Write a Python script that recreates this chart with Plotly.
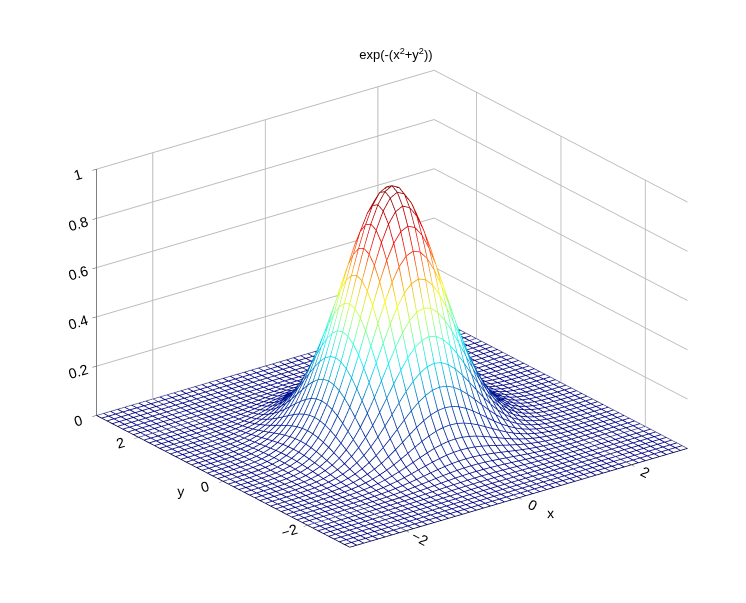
import numpy as np
import plotly.graph_objects as go

# grid of the plotted function exp(-(x^2+y^2)), as named in the chart title
xs = np.arange(-3, 3.0001, 0.125)
ys = np.arange(-3, 3.0001, 0.125)
X, Y = np.meshgrid(xs, ys)
Z = np.exp(-(X**2 + Y**2))

title_text = "exp(-(x<sup>2</sup>+y<sup>2</sup>))"
tick_xy = [-2, 0, 2]
tick_z = [0, 0.2, 0.4, 0.6, 0.8, 1]

# mesh lines: rows and columns joined with None breaks
lx, ly, lz = [], [], []
for i in range(len(ys)):
    lx += list(X[i]) + [None]; ly += list(Y[i]) + [None]; lz += list(Z[i]) + [None]
for j in range(len(xs)):
    lx += list(X[:, j]) + [None]; ly += list(Y[:, j]) + [None]; lz += list(Z[:, j]) + [None]
lc = [0 if v is None else v for v in lz]

fig = go.Figure()
# white faces hide the lines behind, like a matlab mesh
fig.add_trace(go.Surface(x=xs, y=ys, z=Z - 0.004, colorscale=[[0, "white"], [1, "white"]],
                         showscale=False, hoverinfo="skip",
                         lighting=dict(ambient=1, diffuse=0, specular=0, fresnel=0)))
fig.add_trace(go.Scatter3d(x=lx, y=ly, z=lz, mode="lines",
                           line=dict(color=lc, colorscale="Jet", cmin=0, cmax=1, width=1.6),
                           hoverinfo="skip", showlegend=False))

ax = dict(showbackground=False, gridcolor="#bbbbbb", showline=True, linecolor="black",
          zeroline=False, ticks="outside", tickfont=dict(family="Arial", size=13, color="black"))
fig.update_layout(
    width=746, height=603, paper_bgcolor="white", margin=dict(l=0, r=0, t=40, b=0),
    font=dict(family="Arial", color="black"),
    title=dict(text=title_text, x=0.52, y=0.93, font=dict(family="Arial", size=13, color="black")),
    scene=dict(
        xaxis=dict(ax, range=[-3, 3], tickvals=tick_xy, title=dict(text="x", font=dict(color="black"))),
        yaxis=dict(ax, range=[-3, 3], tickvals=tick_xy, title=dict(text="y", font=dict(color="black"))),
        zaxis=dict(ax, range=[0, 1], tickvals=tick_z, title=dict(text="")),
        aspectmode="manual", aspectratio=dict(x=1.5, y=1.5, z=0.95),
        camera=dict(eye=dict(x=-0.75, y=-1.0, z=0.45), center=dict(x=0, y=0, z=-0.08),
                    projection=dict(type="orthographic")),
        domain=dict(x=[0.03, 1.0], y=[0.0, 1.0]),
    ),
)
fig.write_html("out.html")
